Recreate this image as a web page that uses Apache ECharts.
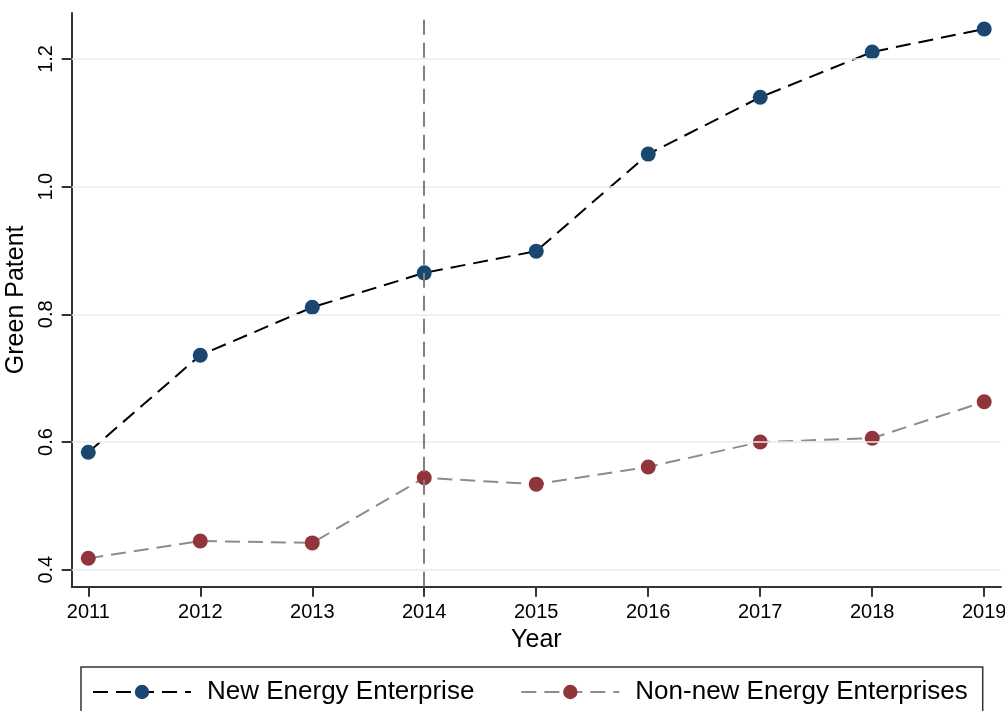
<!DOCTYPE html>
<html>
<head>
<meta charset="utf-8">
<script src="https://cdn.jsdelivr.net/npm/echarts@6/dist/echarts.min.js"></script>
<style>
  html, body { margin: 0; padding: 0; background: #fff; }
  #chart { width: 1005px; height: 711px; }
</style>
</head>
<body>
<div id="chart"></div>
<script>
// Green patent output by year, new-energy vs. non-new-energy enterprises
const years = [2011, 2012, 2013, 2014, 2015, 2016, 2017, 2018, 2019];
const newEnergy = [0.584, 0.736, 0.811, 0.865, 0.899, 1.051, 1.140, 1.211, 1.247];
const nonNewEnergy = [0.418, 0.445, 0.442, 0.544, 0.534, 0.561, 0.600, 0.606, 0.663];
const yTicks = [0.4, 0.6, 0.8, 1.0, 1.2];
const policyYear = 2014;

const FONT = "'Liberation Sans', Arial, sans-serif";
const AXIS_COLOR = '#333333';

const chart = echarts.init(document.getElementById('chart'), null, { renderer: 'canvas' });

const pairs = (ys) => years.map((y, i) => [y, ys[i]]);

chart.setOption({
  animation: false,
  backgroundColor: '#ffffff',
  grid: { left: 71.7, right: 4, top: 13, bottom: 124.3, containLabel: false, outerBoundsMode: 'none' },
  xAxis: {
    type: 'value',
    min: 2010.852,
    max: 2019.15,
    name: 'Year',
    nameLocation: 'middle',
    nameGap: 35,
    nameTextStyle: { fontFamily: FONT, fontSize: 25, color: '#000' },
    axisLine: { show: true, lineStyle: { color: AXIS_COLOR, width: 2 } },
    axisTick: { show: true, length: 10, customValues: years, lineStyle: { color: AXIS_COLOR, width: 2 } },
    axisLabel: {
      customValues: years, margin: 16,
      fontFamily: FONT, fontSize: 20, color: '#000',
      formatter: (v) => String(Math.round(v))
    },
    splitLine: { show: false }
  },
  yAxis: {
    type: 'value',
    min: 0.3734,
    max: 1.272,
    name: 'Green Patent',
    nameLocation: 'middle',
    nameGap: 40,
    nameTextStyle: { fontFamily: FONT, fontSize: 25, color: '#000' },
    axisLine: { show: true, lineStyle: { color: AXIS_COLOR, width: 2 } },
    axisTick: { show: true, length: 10, customValues: yTicks, lineStyle: { color: AXIS_COLOR, width: 2 } },
    axisLabel: {
      customValues: yTicks, rotate: 90, margin: 15,
      fontFamily: FONT, fontSize: 20, color: '#000',
      formatter: (v) => v.toFixed(1)
    },
    splitLine: { show: false }
  },
  legend: {
    left: 81,
    top: 667,
    padding: [12, 15, 40, 11],
    itemGap: 46,
    itemWidth: 98,
    itemHeight: 18,
    borderColor: '#333333',
    borderWidth: 1.5,
    borderRadius: 0,
    textStyle: { fontFamily: FONT, fontSize: 26, color: '#000', padding: [0, 0, 0, 11] },
    data: ['New Energy Enterprise', 'Non-new Energy Enterprises']
  },
  series: [
    {
      // horizontal gridlines and the 2014 reference line
      type: 'line',
      name: 'guides',
      data: [],
      z: 1,
      silent: true,
      markLine: {
        silent: true,
        symbol: ['none', 'none'],
        label: { show: false },
        emphasis: { disabled: true },
        data: yTicks.map((v) => ({ yAxis: v, lineStyle: { color: '#e6eef1', width: 1.5, type: 'solid' } }))
          .concat([{ xAxis: policyYear, lineStyle: { color: '#808080', width: 2, type: [15, 8] } }])
      }
    },
    {
      type: 'line',
      name: 'New Energy Enterprise',
      data: pairs(newEnergy),
      z: 3,
      symbol: 'circle',
      symbolSize: 15,
      itemStyle: { color: '#1a476f' },
      lineStyle: { color: '#000000', width: 2, type: [15, 8] }
    },
    {
      type: 'line',
      name: 'Non-new Energy Enterprises',
      data: pairs(nonNewEnergy),
      z: 3,
      symbol: 'circle',
      symbolSize: 15,
      itemStyle: { color: '#90353b' },
      lineStyle: { color: '#8c8c8c', width: 2, type: [15, 8] }
    }
  ]
});
</script>
</body>
</html>
